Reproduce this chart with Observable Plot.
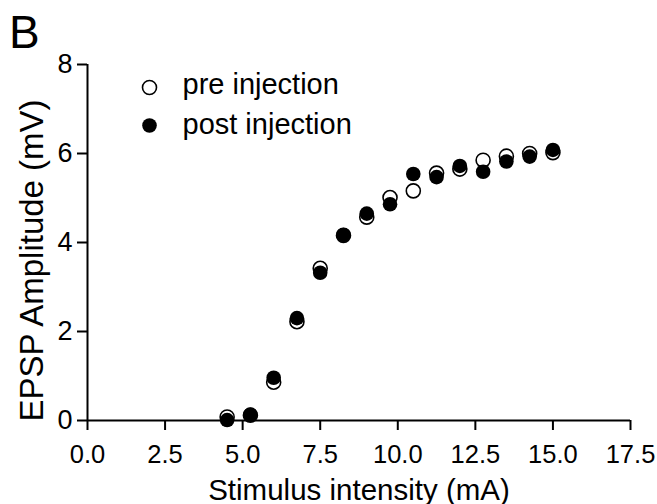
<!DOCTYPE html>
<html>
<head>
<meta charset="utf-8">
<script src="https://cdn.jsdelivr.net/npm/d3@7"></script>
<script src="https://cdn.jsdelivr.net/npm/@observablehq/plot@0.6"></script>
<style>
  html, body { margin: 0; padding: 0; background: white; }
  #chart { width: 657px; height: 504px; }
</style>
</head>
<body>
<div id="chart"></div>
<script>
const stimulus = [4.5, 5.25, 6, 6.75, 7.5, 8.25, 9, 9.75, 10.5, 11.25, 12, 12.75, 13.5, 14.25, 15];
const preInjection = [0.08, 0.12, 0.86, 2.22, 3.42, 4.16, 4.57, 5.01, 5.16, 5.56, 5.65, 5.85, 5.94, 6.0, 6.02];
const postInjection = [0.01, 0.13, 0.96, 2.3, 3.32, 4.17, 4.65, 4.86, 5.54, 5.47, 5.72, 5.59, 5.82, 5.93, 6.08];
const xTicks = [0, 2.5, 5, 7.5, 10, 12.5, 15, 17.5];
const yTicks = [0, 2, 4, 6, 8];
const seriesNames = ["pre injection", "post injection"];
const panelLabel = "B";
const xTitle = "Stimulus intensity (mA)";
const yTitle = "EPSP Amplitude (mV)";

const pre = stimulus.map((x, i) => ({x, y: preInjection[i]}));
const post = stimulus.map((x, i) => ({x, y: postInjection[i]}));

const chart = Plot.plot({
  width: 657,
  height: 504,
  marginLeft: 87,
  marginRight: 27,
  marginTop: 64,
  marginBottom: 84,
  x: {domain: [0, 17.5]},
  y: {domain: [0, 8]},
  style: {fontFamily: "'Liberation Sans', Arial, sans-serif", color: "black", background: "white"},
  marks: [
    Plot.axisX({ticks: xTicks, tickSize: 10, tickPadding: 14, tickFormat: d3.format(".1f"), fontSize: 25.5, label: null, strokeWidth: 2}),
    Plot.axisY({ticks: yTicks, tickSize: 10, tickPadding: 5, fontSize: 27, label: null, strokeWidth: 2}),
    Plot.ruleY([0], {strokeWidth: 2}),
    Plot.ruleX([0], {strokeWidth: 2}),
    Plot.dot(pre, {x: "x", y: "y", r: 7, stroke: "black", strokeWidth: 1.6, fill: "none"}),
    Plot.dot(post, {x: "x", y: "y", r: 7.3, fill: "black", stroke: "none"}),
    // legend
    Plot.dot([seriesNames[0]], {frameAnchor: "top-left", dx: 62, dy: 23, r: 7, stroke: "black", strokeWidth: 1.6, fill: "none"}),
    Plot.dot([seriesNames[1]], {frameAnchor: "top-left", dx: 62, dy: 61, r: 7.3, fill: "black", stroke: "none"}),
    Plot.text([seriesNames[0]], {text: d => d, frameAnchor: "top-left", dx: 95, dy: 20, textAnchor: "start", lineAnchor: "middle", fontSize: 29}),
    Plot.text([seriesNames[1]], {text: d => d, frameAnchor: "top-left", dx: 95, dy: 60, textAnchor: "start", lineAnchor: "middle", fontSize: 29}),
    // titles
    Plot.text([xTitle], {text: d => d, frameAnchor: "bottom", dy: 79, lineAnchor: "bottom", fontSize: 29.5}),
    Plot.text([yTitle], {text: d => d, frameAnchor: "left", dx: -45, dy: 18, rotate: -90, textAnchor: "middle", lineAnchor: "bottom", fontSize: 33}),
    Plot.text([panelLabel], {text: d => d, frameAnchor: "top-left", dx: -78.5, dy: -17, textAnchor: "start", lineAnchor: "bottom", fontSize: 46})
  ]
});
document.getElementById("chart").appendChild(chart);
</script>
</body>
</html>
